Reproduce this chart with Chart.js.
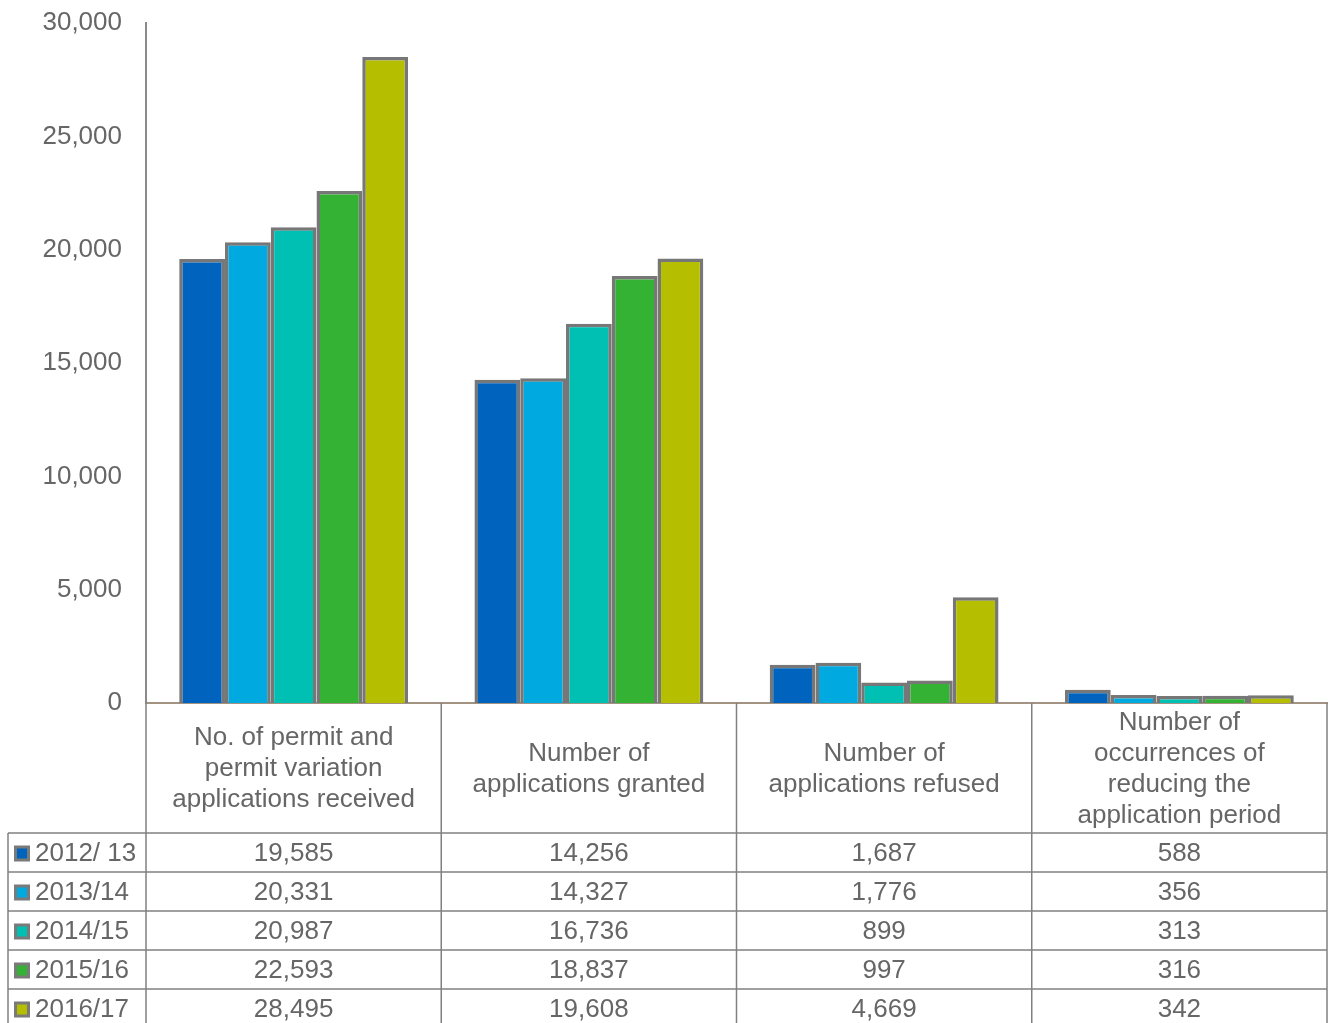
<!DOCTYPE html>
<html lang="en">
<head>
    <meta charset="UTF-8">
    <title>Permit applications</title>
    <script src="https://cdn.jsdelivr.net/npm/chart.js"></script>
    <style>
        html, body { margin: 0; padding: 0; background: #fff; }
        #wrap { width: 1333px; height: 1023px; }
    </style>
</head>
<body>
    <div id="wrap"><canvas id="grafica" width="1333" height="1023"></canvas></div>

    <script>
        var categorias = [
            ['No. of permit and', 'permit variation', 'applications received'],
            ['Number of', 'applications granted'],
            ['Number of', 'applications refused'],
            ['Number of', 'occurrences of', 'reducing the', 'application period']
        ];
        var anios = ['2012/ 13', '2013/14', '2014/15', '2015/16', '2016/17'];
        var v2012 = [19585, 14256, 1687, 588];
        var v2013 = [20331, 14327, 1776, 356];
        var v2014 = [20987, 16736, 899, 313];
        var v2015 = [22593, 18837, 997, 316];
        var v2016 = [28495, 19608, 4669, 342];
        var colores = ['#0064BE', '#00A9E0', '#00BFB3', '#34B233', '#B5BF00'];

        var series = [v2012, v2013, v2014, v2015, v2016];
        var fuente = "'Liberation Sans', Arial, sans-serif";
        var gris = '#666666';
        var linea = '#808080';

        var tablaPlugin = {
            id: 'tabla',
            afterDraw: function(chart) {
                var ctx = chart.ctx;
                var x = chart.scales.x;
                var area = chart.chartArea;
                var ancho = x.width / categorias.length;
                var top = area.bottom;
                var altoCab = 130;
                var altoFila = 39;
                var izq = 8;
                ctx.save();
                ctx.strokeStyle = linea;
                ctx.lineWidth = 1.5;
                ctx.font = '26px ' + fuente;
                ctx.fillStyle = gris;
                ctx.textAlign = 'center';
                ctx.textBaseline = 'middle';

                // vertical lines
                for (var i = 0; i <= categorias.length; i++) {
                    var lx = area.left + i * ancho;
                    ctx.beginPath();
                    ctx.moveTo(lx, top);
                    ctx.lineTo(lx, chart.height);
                    ctx.stroke();
                }
                // legend column left border
                ctx.beginPath();
                ctx.moveTo(izq, top + altoCab);
                ctx.lineTo(izq, chart.height);
                ctx.stroke();

                // header labels
                categorias.forEach(function(lineas, i) {
                    var cx = x.getPixelForTick(i);
                    var cy = top + 66;
                    var lh = 31;
                    var y0 = cy - (lineas.length - 1) * lh / 2;
                    lineas.forEach(function(t, k) {
                        ctx.fillText(t, cx, y0 + k * lh);
                    });
                });

                // rows
                anios.forEach(function(anio, r) {
                    var ry = top + altoCab + r * altoFila;
                    ctx.beginPath();
                    ctx.moveTo(izq, ry);
                    ctx.lineTo(area.right, ry);
                    ctx.stroke();
                    var cy = ry + altoFila / 2;
                    // legend key
                    ctx.fillStyle = '#7a7a7a';
                    ctx.fillRect(14, cy - 7, 16, 16);
                    ctx.fillStyle = colores[r];
                    ctx.fillRect(17, cy - 4, 10, 10);
                    ctx.fillStyle = gris;
                    ctx.textAlign = 'left';
                    ctx.fillText(anio, 35, cy + 1);
                    ctx.textAlign = 'center';
                    series[r].forEach(function(v, i) {
                        ctx.fillText(v.toLocaleString('en-US'), x.getPixelForTick(i), cy + 1);
                    });
                });
                ctx.restore();
            }
        };

        var ctx = document.getElementById('grafica').getContext('2d');
        var grafica = new Chart(ctx, {
            type: 'bar',
            data: {
                labels: categorias,
                datasets: anios.map(function(a, i) {
                    return {
                        label: a,
                        data: series[i],
                        backgroundColor: colores[i],
                        borderColor: '#777777',
                        borderWidth: 3.5,
                        barPercentage: 1,
                        categoryPercentage: 0.775
                    };
                })
            },
            options: {
                responsive: false,
                animation: false,
                layout: { padding: { top: 23, right: 6, bottom: 320, left: 0 } },
                plugins: {
                    legend: { display: false },
                    tooltip: { enabled: false }
                },
                scales: {
                    x: {
                        grid: { display: false, drawTicks: false },
                        ticks: { display: false },
                        border: { display: true, color: '#a39383', width: 2 },
                        afterFit: function(s) { s.height = 0; }
                    },
                    y: {
                        min: 0,
                        max: 30000,
                        grid: { display: false, drawTicks: true, tickLength: 24 },
                        border: { display: true, color: '#8a8a8a', width: 2 },
                        ticks: {
                            stepSize: 5000,
                            padding: 0,
                            color: gris,
                            font: { family: fuente, size: 26 }
                        },
                        afterFit: function(s) { s.width = 146; }
                    }
                }
            },
            plugins: [tablaPlugin]
        });
    </script>
</body>
</html>
